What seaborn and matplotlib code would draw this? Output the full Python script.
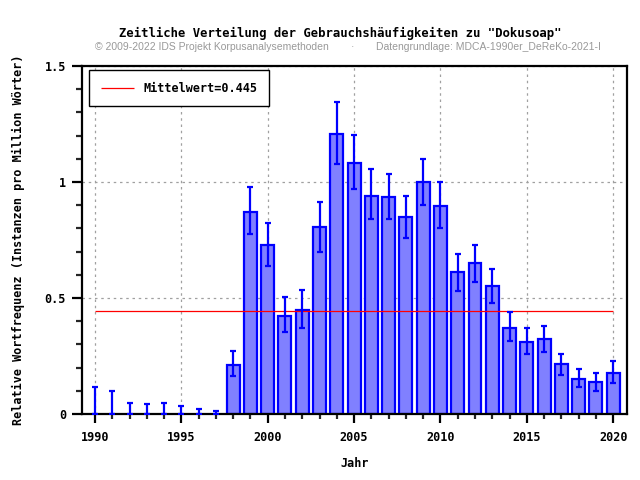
import numpy as np
import matplotlib
matplotlib.use("Agg")
import matplotlib.pyplot as plt
import seaborn as sns
from matplotlib.ticker import MultipleLocator, FormatStrFormatter, FuncFormatter

# Data
years = np.arange(1990, 2021)
freq = np.array([0, 0, 0, 0, 0, 0, 0, 0,
                 0.212, 0.872, 0.727, 0.424, 0.450, 0.805, 1.206, 1.080,
                 0.941, 0.934, 0.848, 0.999, 0.898, 0.611, 0.649, 0.550,
                 0.372, 0.312, 0.322, 0.214, 0.149, 0.137, 0.175])
err_low = np.array([0, 0, 0, 0, 0, 0, 0, 0,
                    0.165, 0.776, 0.638, 0.353, 0.371, 0.698, 1.078, 0.970,
                    0.841, 0.841, 0.760, 0.901, 0.802, 0.532, 0.569, 0.478,
                    0.316, 0.259, 0.269, 0.168, 0.116, 0.100, 0.135])
err_high = np.array([0.118, 0.100, 0.049, 0.044, 0.049, 0.036, 0.023, 0.014,
                     0.273, 0.980, 0.825, 0.506, 0.534, 0.915, 1.345, 1.204,
                     1.056, 1.036, 0.941, 1.099, 1.001, 0.691, 0.730, 0.626,
                     0.440, 0.372, 0.381, 0.260, 0.195, 0.178, 0.230])
mean_value = 0.445

title = 'Zeitliche Verteilung der Gebrauchshäufigkeiten zu "Dokusoap"'
credit_left = "© 2009-2022 IDS Projekt Korpusanalysemethoden"
credit_right = "Datengrundlage: MDCA-1990er_DeReKo-2021-I"

sns.set_style("ticks")
mono = ["DejaVu Sans Mono"]
plt.rcParams["font.family"] = mono
plt.rcParams["font.weight"] = "bold"
plt.rcParams["font.size"] = 8.5
plt.rcParams["text.color"] = "black"
plt.rcParams["axes.labelcolor"] = "black"

fig = plt.figure(figsize=(6.4, 4.8), dpi=100)
ax = fig.add_axes([82 / 640, 66 / 480, 545 / 640, 348 / 480])

# Grid behind everything
ax.set_axisbelow(True)
ax.grid(True, which="major", color="#a0a0a0", linestyle=(0, (2, 3)), linewidth=0.9)

mask = freq > 0
sns.barplot(x=years[mask], y=freq[mask], native_scale=True, width=0.75,
            color="#8080ff", saturation=1, edgecolor="#0000ff", linewidth=1.6,
            errorbar=None, ax=ax)

ax.errorbar(years, freq, yerr=[freq - err_low, err_high - freq], fmt="none",
            ecolor="#0000ff", elinewidth=1.6, capsize=2.3, capthick=1.6, zorder=4)

ax.hlines(mean_value, years[0], years[-1], color="#ff0000", linewidth=0.9,
          zorder=3, label=f"Mittelwert={mean_value}")

ax.set_xlim(1989.25, 2020.8)
ax.set_ylim(0, 1.5)
ax.xaxis.set_major_locator(MultipleLocator(5))
ax.xaxis.set_minor_locator(MultipleLocator(1))
ax.yaxis.set_major_locator(MultipleLocator(0.5))
ax.yaxis.set_minor_locator(MultipleLocator(0.1))
ax.yaxis.set_major_formatter(FuncFormatter(lambda v, p: f"{v:g}"))
ax.xaxis.set_major_formatter(FormatStrFormatter("%d"))

for sp in ax.spines.values():
    sp.set_visible(True)
    sp.set_linewidth(1.6)
    sp.set_color("black")
ax.tick_params(axis="both", which="major", direction="out", width=1.6, colors="black")
ax.tick_params(axis="x", which="major", length=6.5, pad=6)
ax.tick_params(axis="x", which="minor", length=3.5, width=1.6)
ax.tick_params(axis="y", which="major", length=7.5, pad=4)
ax.tick_params(axis="y", which="minor", length=4.5, width=1.6)

ax.set_xlabel("Jahr", fontweight="bold", labelpad=9)
ax.set_ylabel("Relative Wortfrequenz (Instanzen pro Million Wörter)",
              fontweight="bold", labelpad=14)

leg = ax.legend(loc="upper left", bbox_to_anchor=(0.013, 0.989), borderaxespad=0,
                fancybox=False, edgecolor="black", framealpha=1, borderpad=1.0,
                handlelength=2.8, handletextpad=0.8)
leg.get_frame().set_linewidth(1.0)

fig.text(340 / 640, 1 - 33 / 480, title, ha="center", va="center",
         fontsize=8.8, fontweight="bold", family=mono, color="black")
sub = ["Liberation Sans Narrow", "Liberation Sans", "DejaVu Sans"]
fig.text(95 / 640, 1 - 47 / 480, credit_left, ha="left", va="center",
         fontsize=7.5, fontweight="normal", color="#999999", family=sub)
fig.text(352 / 640, 1 - 47 / 480, "·", ha="center", va="center",
         fontsize=7.5, fontweight="normal", color="#999999", family=sub)
fig.text(376 / 640, 1 - 47 / 480, credit_right, ha="left", va="center",
         fontsize=7.5, fontweight="normal", color="#999999", family=sub)

fig.savefig("out.png", dpi=100)
